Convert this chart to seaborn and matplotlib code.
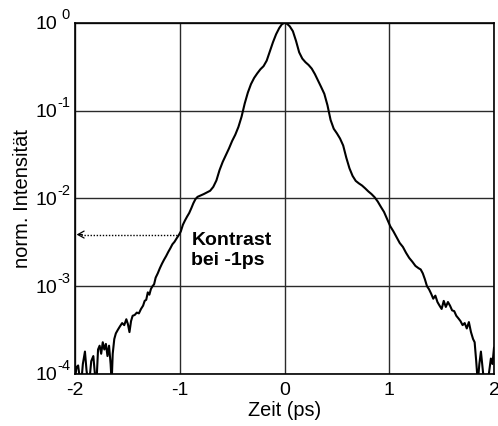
import numpy as np
import pandas as pd
import matplotlib
matplotlib.use("Agg")
import matplotlib.pyplot as plt
from matplotlib.ticker import FixedLocator
import seaborn as sns

# Autocorrelation trace: delay (ps) and normalised intensity
zeit_ps = [
    -2.00, -1.985, -1.97, -1.955, -1.94, -1.925, -1.905, -1.89, -1.875, -1.86,
    -1.845, -1.825, -1.81, -1.795, -1.78, -1.765, -1.75, -1.735, -1.72, -1.705,
    -1.69, -1.675, -1.66, -1.65, -1.64, -1.625, -1.61, -1.59, -1.57, -1.55,
    -1.53, -1.51, -1.495, -1.48, -1.465, -1.45, -1.43, -1.41, -1.39, -1.37,
    -1.35, -1.335, -1.32, -1.305, -1.29, -1.275, -1.26, -1.245, -1.23, -1.21,
    -1.19, -1.17, -1.15, -1.13, -1.11, -1.09, -1.07, -1.05, -1.03, -1.01,
    -0.99, -0.97, -0.95, -0.93, -0.91, -0.89, -0.87, -0.85, -0.83, -0.80,
    -0.77, -0.74, -0.71, -0.68, -0.65, -0.62, -0.59, -0.56, -0.53, -0.50,
    -0.47, -0.44, -0.41, -0.38, -0.35, -0.32, -0.29, -0.26, -0.23, -0.20,
    -0.17, -0.14, -0.11, -0.08, -0.05, -0.025, 0.0,
    0.025, 0.05, 0.08, 0.11, 0.14, 0.17, 0.20, 0.23, 0.26, 0.29,
    0.32, 0.35, 0.38, 0.41, 0.44, 0.47, 0.50, 0.53, 0.56, 0.59,
    0.62, 0.65, 0.68, 0.71, 0.74, 0.77, 0.80, 0.83, 0.86, 0.89,
    0.92, 0.95, 0.98, 1.01, 1.04, 1.07, 1.10, 1.13, 1.16, 1.19,
    1.22, 1.25, 1.28, 1.30, 1.32, 1.34, 1.36, 1.38, 1.40, 1.42,
    1.44, 1.46, 1.48, 1.50, 1.52, 1.54, 1.56, 1.58, 1.60, 1.62,
    1.64, 1.66, 1.68, 1.70, 1.72, 1.74, 1.76, 1.78, 1.80, 1.815,
    1.83, 1.845, 1.86, 1.875, 1.89, 1.905, 1.92, 1.94, 1.955, 1.97,
    1.985, 2.00,
]
intensitaet = [
    0.00009, 0.00012, 0.000125, 0.00009, 0.00008, 0.00013, 0.00018, 0.00011, 0.00008, 0.00009,
    0.00014, 0.00016, 0.00010, 0.00008, 0.00019, 0.00021, 0.00017, 0.00023, 0.00019, 0.00022,
    0.00016, 0.00021, 0.00013, 0.00008, 0.00017, 0.00025, 0.00029, 0.00032, 0.00035, 0.00038,
    0.00036, 0.00042, 0.00037, 0.00030, 0.00040, 0.00046, 0.00047, 0.00050, 0.00049, 0.00055,
    0.00060, 0.00068, 0.00070, 0.00085, 0.00080, 0.00093, 0.00100, 0.00105, 0.00125, 0.00140,
    0.00160, 0.00180, 0.00200, 0.00220, 0.00245, 0.00270, 0.00300, 0.00320, 0.00350, 0.00380,
    0.00420, 0.0050, 0.0056, 0.0062, 0.0068, 0.0077, 0.0088, 0.0098, 0.0104, 0.0108,
    0.0112, 0.0117, 0.0122, 0.0135, 0.016, 0.021, 0.026, 0.031, 0.037, 0.045,
    0.053, 0.065, 0.085, 0.120, 0.160, 0.200, 0.235, 0.265, 0.295, 0.320,
    0.370, 0.470, 0.600, 0.740, 0.870, 0.960, 1.0,
    0.97, 0.91, 0.80, 0.62, 0.46, 0.39, 0.355, 0.33, 0.30, 0.26,
    0.22, 0.185, 0.155, 0.115, 0.078, 0.062, 0.055, 0.048, 0.040, 0.029,
    0.022, 0.018, 0.0158, 0.0148, 0.0140, 0.0130, 0.0120, 0.0112, 0.0103, 0.0092,
    0.0080, 0.0070, 0.0058, 0.0048, 0.0042, 0.0036, 0.0031, 0.0028, 0.0024, 0.0021,
    0.0019, 0.0017, 0.0016, 0.00155, 0.0014, 0.0012, 0.0010, 0.00092, 0.00082, 0.00072,
    0.00078, 0.00066, 0.00060, 0.00055, 0.00068, 0.00058, 0.00066, 0.00060, 0.00053, 0.00052,
    0.00046, 0.00043, 0.00040, 0.00036, 0.00038, 0.00033, 0.00039, 0.00030, 0.00025, 0.00023,
    0.00014, 0.00008, 0.00013, 0.00018, 0.00012, 0.00008, 0.00009, 0.00008, 0.00011, 0.00015,
    0.00013, 0.0002,
]

x_ticks = [-2, -1, 0, 1, 2]
x_ticklabels = ["-2", "-1", "0", "1", "2"]
y_exponents = [-4, -3, -2, -1, 0]

# Contrast marker at -1 ps
kontrast_wert = 0.00387
kontrast_text = "Kontrast\nbei -1ps"

sns.set_style("white")
plt.rcParams["font.family"] = ["Liberation Sans", "DejaVu Sans"]
plt.rcParams["axes.unicode_minus"] = False

df = pd.DataFrame({"Zeit": zeit_ps, "Intensitaet": intensitaet})

fig, ax = plt.subplots(figsize=(4.98, 4.26), dpi=100)
fig.subplots_adjust(left=0.1506, right=0.992, bottom=0.1221, top=0.9467)

sns.lineplot(data=df, x="Zeit", y="Intensitaet", sort=False, estimator=None,
             color="black", linewidth=1.5, ax=ax, zorder=3)

ax.set_yscale("log")
ax.set_xlim(-2, 2)
ax.set_ylim(1e-4, 1)

ax.xaxis.set_major_locator(FixedLocator(x_ticks))
ax.set_xticklabels(x_ticklabels)

# Decade labels: base "10" as tick label, exponent as a small raised text
y_decades = [10.0 ** e for e in y_exponents]
ax.yaxis.set_major_locator(FixedLocator(y_decades))
ax.yaxis.set_minor_locator(FixedLocator([]))
ax.set_yticklabels(["10"] * len(y_decades))
for e, v in zip(y_exponents, y_decades):
    dx = -10.0 if e == 0 else -12.6
    ax.annotate(str(e), xy=(0, v), xycoords=("axes fraction", "data"),
                xytext=(dx, 2.6), textcoords="offset points",
                ha="left", va="baseline", fontsize=10.5, color="black",
                annotation_clip=False)

ax.grid(True, which="major", color="#2a2a2a", linewidth=1.0)
ax.set_axisbelow(True)
for s in ax.spines.values():
    s.set_color("black")
    s.set_linewidth(1.2)

ax.tick_params(axis="both", which="both", length=0, labelsize=14, colors="black")
ax.tick_params(axis="x", pad=5.5)
ax.tick_params(axis="y", pad=13)

ax.set_xlabel("Zeit (ps)", fontsize=14.3, color="black")
ax.set_ylabel("norm. Intensität", fontsize=14.5, color="black")
ax.xaxis.set_label_coords(0.5, -0.078)
ax.yaxis.set_label_coords(-0.103, 0.5)

# Dotted pointer from the curve at -1 ps to the intensity axis
ax.plot([-1.03, -1.96], [kontrast_wert, kontrast_wert], linestyle=(0, (1, 1.2)),
        color="black", linewidth=1.0, zorder=4)
ax.annotate("", xy=(-1.985, kontrast_wert), xytext=(-1.93, kontrast_wert),
            arrowprops=dict(arrowstyle="->,head_length=0.45,head_width=0.25",
                            color="black", lw=0.9, shrinkA=0, shrinkB=0), zorder=4)
ax.text(-0.889, 0.0041, kontrast_text, fontsize=14, fontweight="bold",
        ha="left", va="top", linespacing=1.2, color="black", zorder=5)

fig.savefig("out.png", dpi=100, facecolor="white")
